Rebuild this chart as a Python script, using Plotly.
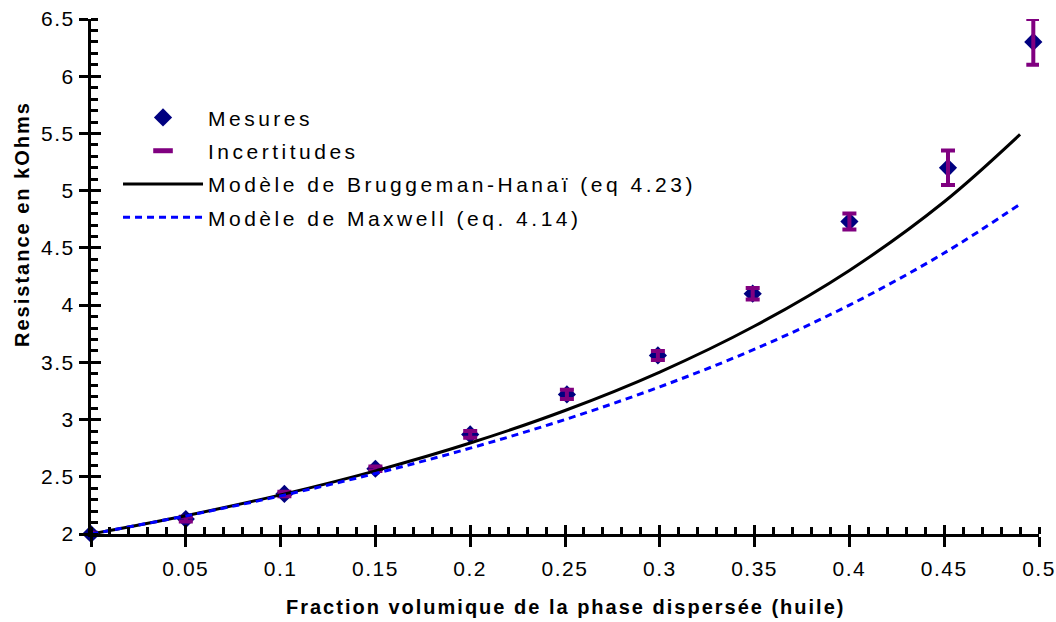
import plotly.graph_objects as go

# Measured resistance vs. volume fraction of the dispersed oil phase
fraction = [0.0, 0.05, 0.102, 0.15, 0.2, 0.251, 0.299, 0.349, 0.4, 0.452, 0.497]
resistance = [2.0, 2.13, 2.35, 2.57, 2.87, 3.22, 3.56, 4.10, 4.73, 5.20, 6.30]
uncertainty = [0.01, 0.02, 0.02, 0.02, 0.03, 0.04, 0.04, 0.05, 0.07, 0.15, 0.20]

# Model curves
model_fraction = [0.0, 0.05, 0.1, 0.15, 0.2, 0.25, 0.3, 0.35, 0.4, 0.45, 0.49]
bruggeman = [2.000, 2.160, 2.342, 2.552, 2.795, 3.079, 3.415, 3.817, 4.303, 4.903, 5.491]
maxwell = [2.000, 2.158, 2.333, 2.529, 2.750, 3.000, 3.286, 3.615, 4.000, 4.455, 4.882]

x_ticks = [0, 0.05, 0.1, 0.15, 0.2, 0.25, 0.3, 0.35, 0.4, 0.45, 0.5]
y_ticks = [2, 2.5, 3, 3.5, 4, 4.5, 5, 5.5, 6, 6.5]

FONT = "Liberation Sans, Arial, sans-serif"
NAVY = "#000080"
PURPLE = "#800080"

fig = go.Figure()

fig.add_trace(go.Scatter(
    x=fraction, y=resistance, mode="markers", name="Mesures",
    legendgroup="g1",
    marker=dict(symbol="diamond", size=14, color=NAVY),
    cliponaxis=False,
))
# error bars only
fig.add_trace(go.Scatter(
    x=fraction, y=resistance, mode="markers", name="Incertitudes",
    legendgroup="g2", showlegend=False,
    marker=dict(size=1, color="rgba(0,0,0,0)"),
    error_y=dict(type="data", array=uncertainty, visible=True,
                 color=PURPLE, thickness=4, width=7),
    cliponaxis=False,
))
# legend entry for the error bars
fig.add_trace(go.Scatter(
    x=[None], y=[None], mode="markers", name="Incertitudes",
    legendgroup="g2",
    marker=dict(symbol="line-ew", size=14, color=PURPLE,
                line=dict(color=PURPLE, width=5)),
))
fig.add_trace(go.Scatter(
    x=model_fraction, y=bruggeman, mode="lines",
    name="Modèle de Bruggeman-Hanaï (eq 4.23)", legendgroup="g3",
    line=dict(color="black", width=3, shape="spline"),
))
fig.add_trace(go.Scatter(
    x=model_fraction, y=maxwell, mode="lines",
    name="Modèle de Maxwell (eq. 4.14)", legendgroup="g4",
    line=dict(color="#0000FF", width=3, dash="7px,5px", shape="spline"),
))
# carrier for the inner half of the crossing major ticks
fig.add_trace(go.Scatter(x=[None], y=[None], xaxis="x2", yaxis="y2",
                         showlegend=False, hoverinfo="skip"))

axis_common = dict(showgrid=False, zeroline=False, showline=True,
                   linecolor="black", linewidth=3, ticks="outside",
                   tickwidth=3, tickcolor="black", automargin=False,
                   tickfont=dict(family=FONT, size=21, color="black"))

fig.update_layout(
    width=1056, height=622,
    margin=dict(l=91, r=17, t=19, b=88),
    paper_bgcolor="white", plot_bgcolor="white",
    font=dict(family=FONT, size=20, color="black"),
    showlegend=True,
    legend=dict(x=0.0285, y=0.848, xanchor="left", yanchor="top",
                bgcolor="rgba(0,0,0,0)", font=dict(family=FONT, size=21),
                tracegroupgap=3, itemwidth=80),
    xaxis=dict(range=[0, 0.5], tickmode="array", tickvals=x_ticks,
               ticktext=[f"{v:g}" for v in x_ticks], ticklen=10,
               ticklabelstandoff=4,
               minor=dict(dtick=0.01, ticks="inside", ticklen=7,
                          tickwidth=2.5, tickcolor="black"),
               **axis_common),
    yaxis=dict(range=[2, 6.5], tickmode="array", tickvals=y_ticks,
               ticktext=[f"{v:g}" for v in y_ticks], ticklen=9,
               minor=dict(dtick=0.1, ticks="inside", ticklen=7,
                          tickwidth=2.5, tickcolor="black"),
               **axis_common),
    xaxis2=dict(overlaying="x", anchor="y2", range=[0, 0.5], tickmode="array",
                tickvals=x_ticks, ticks="inside", ticklen=9, tickwidth=3,
                tickcolor="black", showticklabels=False, showgrid=False,
                zeroline=False, showline=False, automargin=False),
    yaxis2=dict(overlaying="y", anchor="x2", range=[2, 6.5], tickmode="array",
                tickvals=y_ticks, ticks="inside", ticklen=10, tickwidth=3,
                tickcolor="black", showticklabels=False, showgrid=False,
                zeroline=False, showline=False, automargin=False),
    annotations=[
        dict(text="<b>Resistance en kOhms</b>", textangle=-90,
             xref="paper", yref="paper", x=-0.0728, y=0.602,
             xanchor="center", yanchor="middle", showarrow=False,
             font=dict(family=FONT, size=20, color="black")),
        dict(text="<b>Fraction volumique de la phase dispersée (huile)</b>",
             xref="paper", yref="paper", x=0.5, y=-0.1417,
             xanchor="center", yanchor="middle", showarrow=False,
             font=dict(family=FONT, size=20, color="black")),
    ],
)

# wider letter spacing for the labels; the legend box is sized before
# the spacing is applied, so its clipping is lifted
post = """
var gd = document.getElementById('{plot_id}');
function spread(){
  gd.querySelectorAll('.legendtext').forEach(function(t){t.style.letterSpacing='3.5px';});
  gd.querySelectorAll('.legend .scrollbox').forEach(function(g){g.removeAttribute('clip-path');});
  gd.querySelectorAll('.xtick text, .ytick text').forEach(function(t){t.style.letterSpacing='1.5px';});
  gd.querySelectorAll('.annotation-text').forEach(function(t){t.style.letterSpacing='2px';});
}
spread();
gd.on('plotly_afterplot', spread);
"""

fig.write_html("out.html", post_script=post)
